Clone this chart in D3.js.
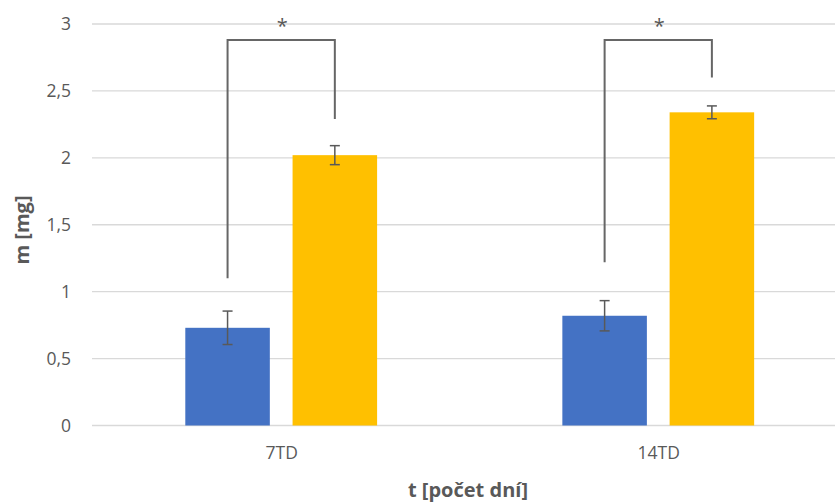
<!DOCTYPE html>
<html><head><meta charset="utf-8">
<script src="https://cdn.jsdelivr.net/npm/d3@7"></script>
<style>body{margin:0;background:#fff}svg{display:block}text{font-family:"Open Sans",Lato,sans-serif}</style>
</head><body>
<svg id="c" width="835" height="502"></svg>
<script>
const categories = ["7TD", "14TD"];
const series = ["A", "B"];
const blueValues = [0.73, 0.82];
const blueErrors = [0.125, 0.113];
const yellowValues = [2.02, 2.34];
const yellowErrors = [0.071, 0.048];
const yTicks = [0, 0.5, 1, 1.5, 2, 2.5, 3];
// significance brackets: [left start, top, right end] in data units
const bracketLeft = [1.10, 1.22];
const bracketTop = [2.88, 2.88];
const bracketRight = [2.29, 2.60];
const sigLabels = ["*", "*"];

const colors = {A: "#4472C4", B: "#FFC000"};
const svg = d3.select("#c");
const y = d3.scaleLinear().domain([0, 3]).range([425.5, 24]);
const x0 = d3.scaleBand().domain(categories).range([92.7, 846.8]).paddingInner(0).paddingOuter(0);
const x1 = d3.scaleBand().domain(series).range([92.6, 377 - 92.6]).paddingInner(0.212);

// gridlines
svg.append("g").selectAll("line").data(yTicks).join("line")
  .attr("x1", 92).attr("x2", 835)
  .attr("y1", d => y(d)).attr("y2", d => y(d))
  .attr("stroke", "#D9D9D9").attr("stroke-width", 1.3);

// y tick labels
const fmt = d => String(d).replace(".", ",");
svg.append("g").selectAll("text").data(yTicks).join("text")
  .attr("x", 71).attr("y", d => y(d)).attr("dy", "0.35em")
  .attr("text-anchor", "end").attr("fill", "#595959").attr("font-size", 17.5)
  .text(fmt);

// x labels
svg.append("g").selectAll("text").data(categories).join("text")
  .attr("x", d => x0(d) + x0.bandwidth() / 2 + 0.5).attr("y", 459)
  .attr("text-anchor", "middle").attr("fill", "#595959").attr("font-size", 17.5)
  .text(d => d);

const data = categories.map((c, i) => ({
  cat: c,
  bars: [
    {s: "A", v: blueValues[i], e: blueErrors[i]},
    {s: "B", v: yellowValues[i], e: yellowErrors[i]}
  ]
}));

const groups = svg.append("g").selectAll("g").data(data).join("g")
  .attr("transform", d => `translate(${x0(d.cat)},0)`);

groups.selectAll("rect").data(d => d.bars).join("rect")
  .attr("x", d => x1(d.s)).attr("width", x1.bandwidth())
  .attr("y", d => y(d.v)).attr("height", d => y(0) - y(d.v))
  .attr("fill", d => colors[d.s]);

// error bars
const eb = groups.selectAll("g.eb").data(d => d.bars).join("g").attr("class", "eb");
const cx = d => x1(d.s) + x1.bandwidth() / 2;
eb.append("line").attr("x1", cx).attr("x2", cx)
  .attr("y1", d => y(d.v + d.e)).attr("y2", d => y(d.v - d.e))
  .attr("stroke", "#595959").attr("stroke-width", 1.5);
eb.append("line").attr("x1", d => cx(d) - 5).attr("x2", d => cx(d) + 5)
  .attr("y1", d => y(d.v + d.e)).attr("y2", d => y(d.v + d.e))
  .attr("stroke", "#595959").attr("stroke-width", 1.5);
eb.append("line").attr("x1", d => cx(d) - 5).attr("x2", d => cx(d) + 5)
  .attr("y1", d => y(d.v - d.e)).attr("y2", d => y(d.v - d.e))
  .attr("stroke", "#595959").attr("stroke-width", 1.5);

// brackets
groups.append("path")
  .attr("d", (d, i) => {
    const xa = x1("A") + x1.bandwidth() / 2, xb = x1("B") + x1.bandwidth() / 2;
    return `M${xa},${y(bracketLeft[i])}V${y(bracketTop[i])}H${xb}V${y(bracketRight[i])}`;
  })
  .attr("fill", "none").attr("stroke", "#666666").attr("stroke-width", 2);
groups.append("text")
  .attr("x", () => (x1("A") + x1("B") + x1.bandwidth()) / 2 + 1)
  .attr("y", 33).attr("text-anchor", "middle").attr("fill", "#595959").attr("font-size", 20)
  .text((d, i) => sigLabels[i]);

// axis titles
svg.append("text").attr("x", 468).attr("y", 497).attr("text-anchor", "middle")
  .attr("fill", "#595959").attr("font-size", 20).attr("font-weight", "bold").text("t [počet dní]");
svg.append("text").attr("transform", "translate(29,230) rotate(-90)").attr("text-anchor", "middle")
  .attr("fill", "#595959").attr("font-size", 20).attr("font-weight", "bold").text("m [mg]");
</script>
</body></html>
